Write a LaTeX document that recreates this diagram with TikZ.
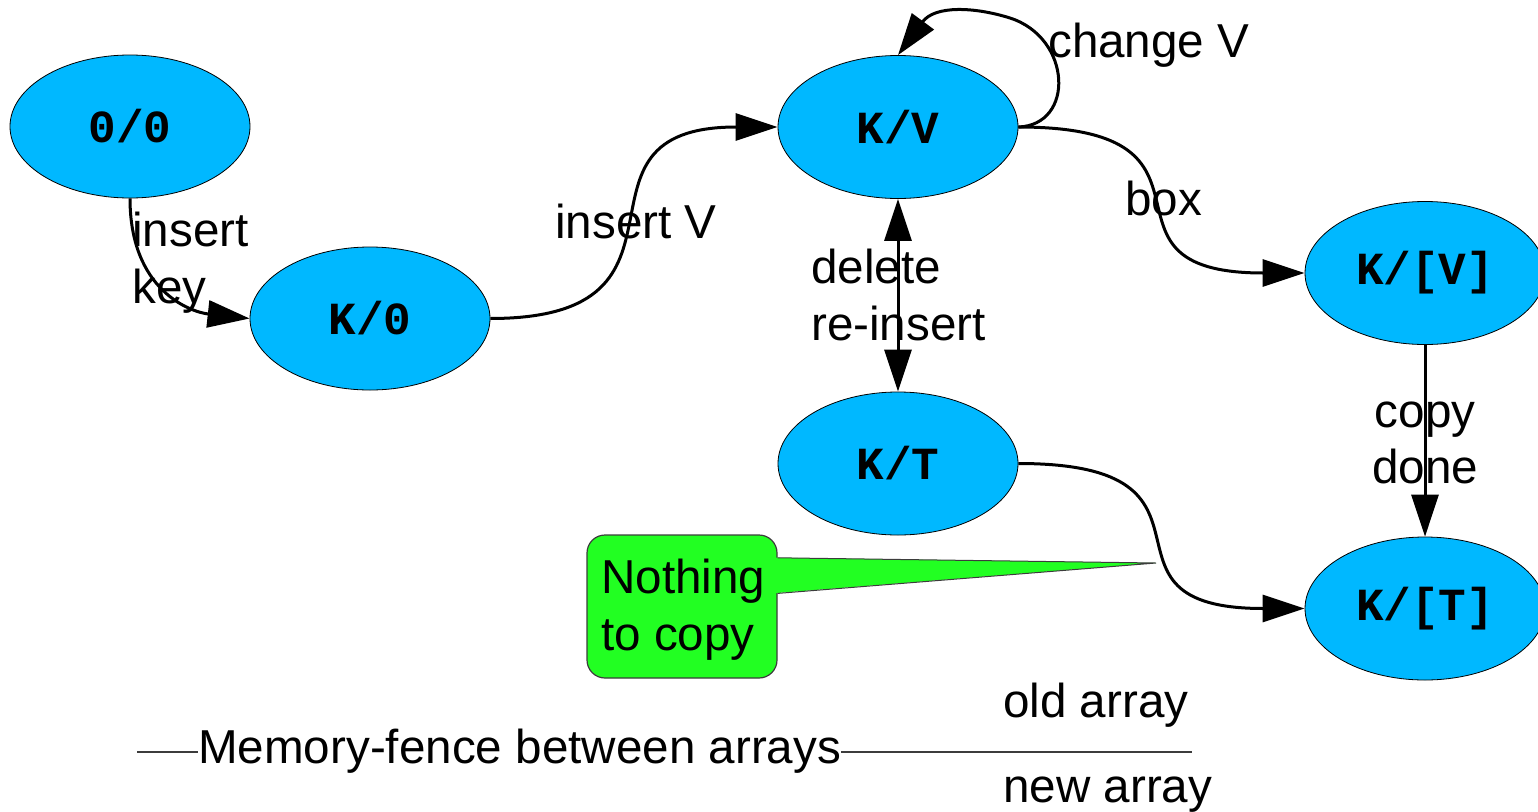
\documentclass[tikz,border=0pt]{standalone}
\usepackage{fontspec}
\setmainfont{Liberation Sans}
\newfontfamily\statefont{Liberation Mono}
\usetikzlibrary{shapes.geometric,arrows.meta}

\definecolor{stateblue}{RGB}{0,184,255}
\definecolor{notegreen}{RGB}{34,255,34}
\definecolor{edgegray}{RGB}{60,60,60}

\tikzset{
  state/.style={ellipse, draw=black, line width=0.8pt, fill=stateblue,
    minimum width=240pt, minimum height=143pt, inner sep=0pt,
    font=\statefont\bfseries\fontsize{46}{46}\selectfont},
  trans/.style={line width=3pt, -{Triangle[length=42pt,width=27pt]}},
  twoway/.style={line width=3pt, {Triangle[length=42pt,width=27pt]}-{Triangle[length=42pt,width=27pt]}},
  lbl/.style={inner sep=0pt, anchor=base west, font=\fontsize{47.6}{57}\selectfont},
  clbl/.style={inner sep=0pt, anchor=base, font=\fontsize{47.6}{57}\selectfont},
  fence/.style={line width=1.2pt, draw=edgegray},
  notebox/.style={fill=notegreen, draw=edgegray, line width=1.2pt}
}

\begin{document}
\begin{tikzpicture}[x=1pt, y=-1pt]
  \useasboundingbox (0,0) rectangle (1538,811);

  % states
  \node[state] (n00) at (130,126.5) {0/0};
  \node[state] (k0)  at (370,318.5) {K/0};
  \node[state] (kv)  at (898,127)   {K/V};
  \node[state] (kt)  at (898,463.5) {K/T};
  \node[state] (kvb) at (1425,273)  {K/[V]};
  \node[state] (ktb) at (1425,608.5){K/[T]};

  % transitions
  \draw[trans] (n00.south) .. controls (130,290) and (190,312) .. (k0.west);
  \draw[trans] (k0.east) .. controls (720,318.5) and (550,127) .. (kv.west);
  \draw[trans] (kv.east) .. controls (1075,125) and (1072,38) .. (1010,18)
                         .. controls (975,7) and (935,5) .. (kv.north);
  \draw[trans] (kv.east) .. controls (1248,127) and (1075,273) .. (kvb.west);
  \draw[trans] (kt.east) .. controls (1248,463.5) and (1075,608.5) .. (ktb.west);
  \draw[twoway] (kv.south) -- (kt.north);
  \draw[trans] (kvb.south) -- (ktb.north);

  % transition labels
  \node[lbl] (l1a) at (132,246) {insert};
  \node[lbl] (l1b) at (132,303) {key};
  \node[lbl] (l2)  at (555,238) {insert V};
  \node[lbl] (l3)  at (1048,57) {change V};
  \node[lbl] (l4a) at (811,283) {delete};
  \node[lbl] (l4b) at (811,340) {re-insert};
  \node[lbl] (l5)  at (1125,215) {box};
  \node[clbl] (l6a) at (1425,427) {copy};
  \node[clbl] (l6b) at (1425,483) {done};

  % callout
  \coordinate (tip) at (1156,563);
  \node[notebox, rounded corners=18pt, minimum width=190pt, minimum height=143pt,
        inner sep=0pt] (note) at (682,606.5) {};
  \fill[notegreen] (770,557.6) -- (tip) -- (770,593.6) -- cycle;
  \draw[edgegray, line width=1pt] (note.east |- 0,557.8) -- (tip) -- (note.east |- 0,593.4);
  \node[lbl] (n1) at (601,593) {Nothing};
  \node[lbl] (n2) at (601,650) {to copy};

  % memory fence between arrays
  \node[lbl] (mem) at (198,763) {Memory-fence between arrays};
  \coordinate (fl) at (137,752);
  \coordinate (fr) at (1192,752);
  \draw[fence] (fl) -- (fl -| mem.west);
  \draw[fence] (fr -| mem.east) -- (fr);
  \node[lbl] (old) at (1003,717) {old array};
  \node[lbl] (new) at (1003,802) {new array};
\end{tikzpicture}
\end{document}
